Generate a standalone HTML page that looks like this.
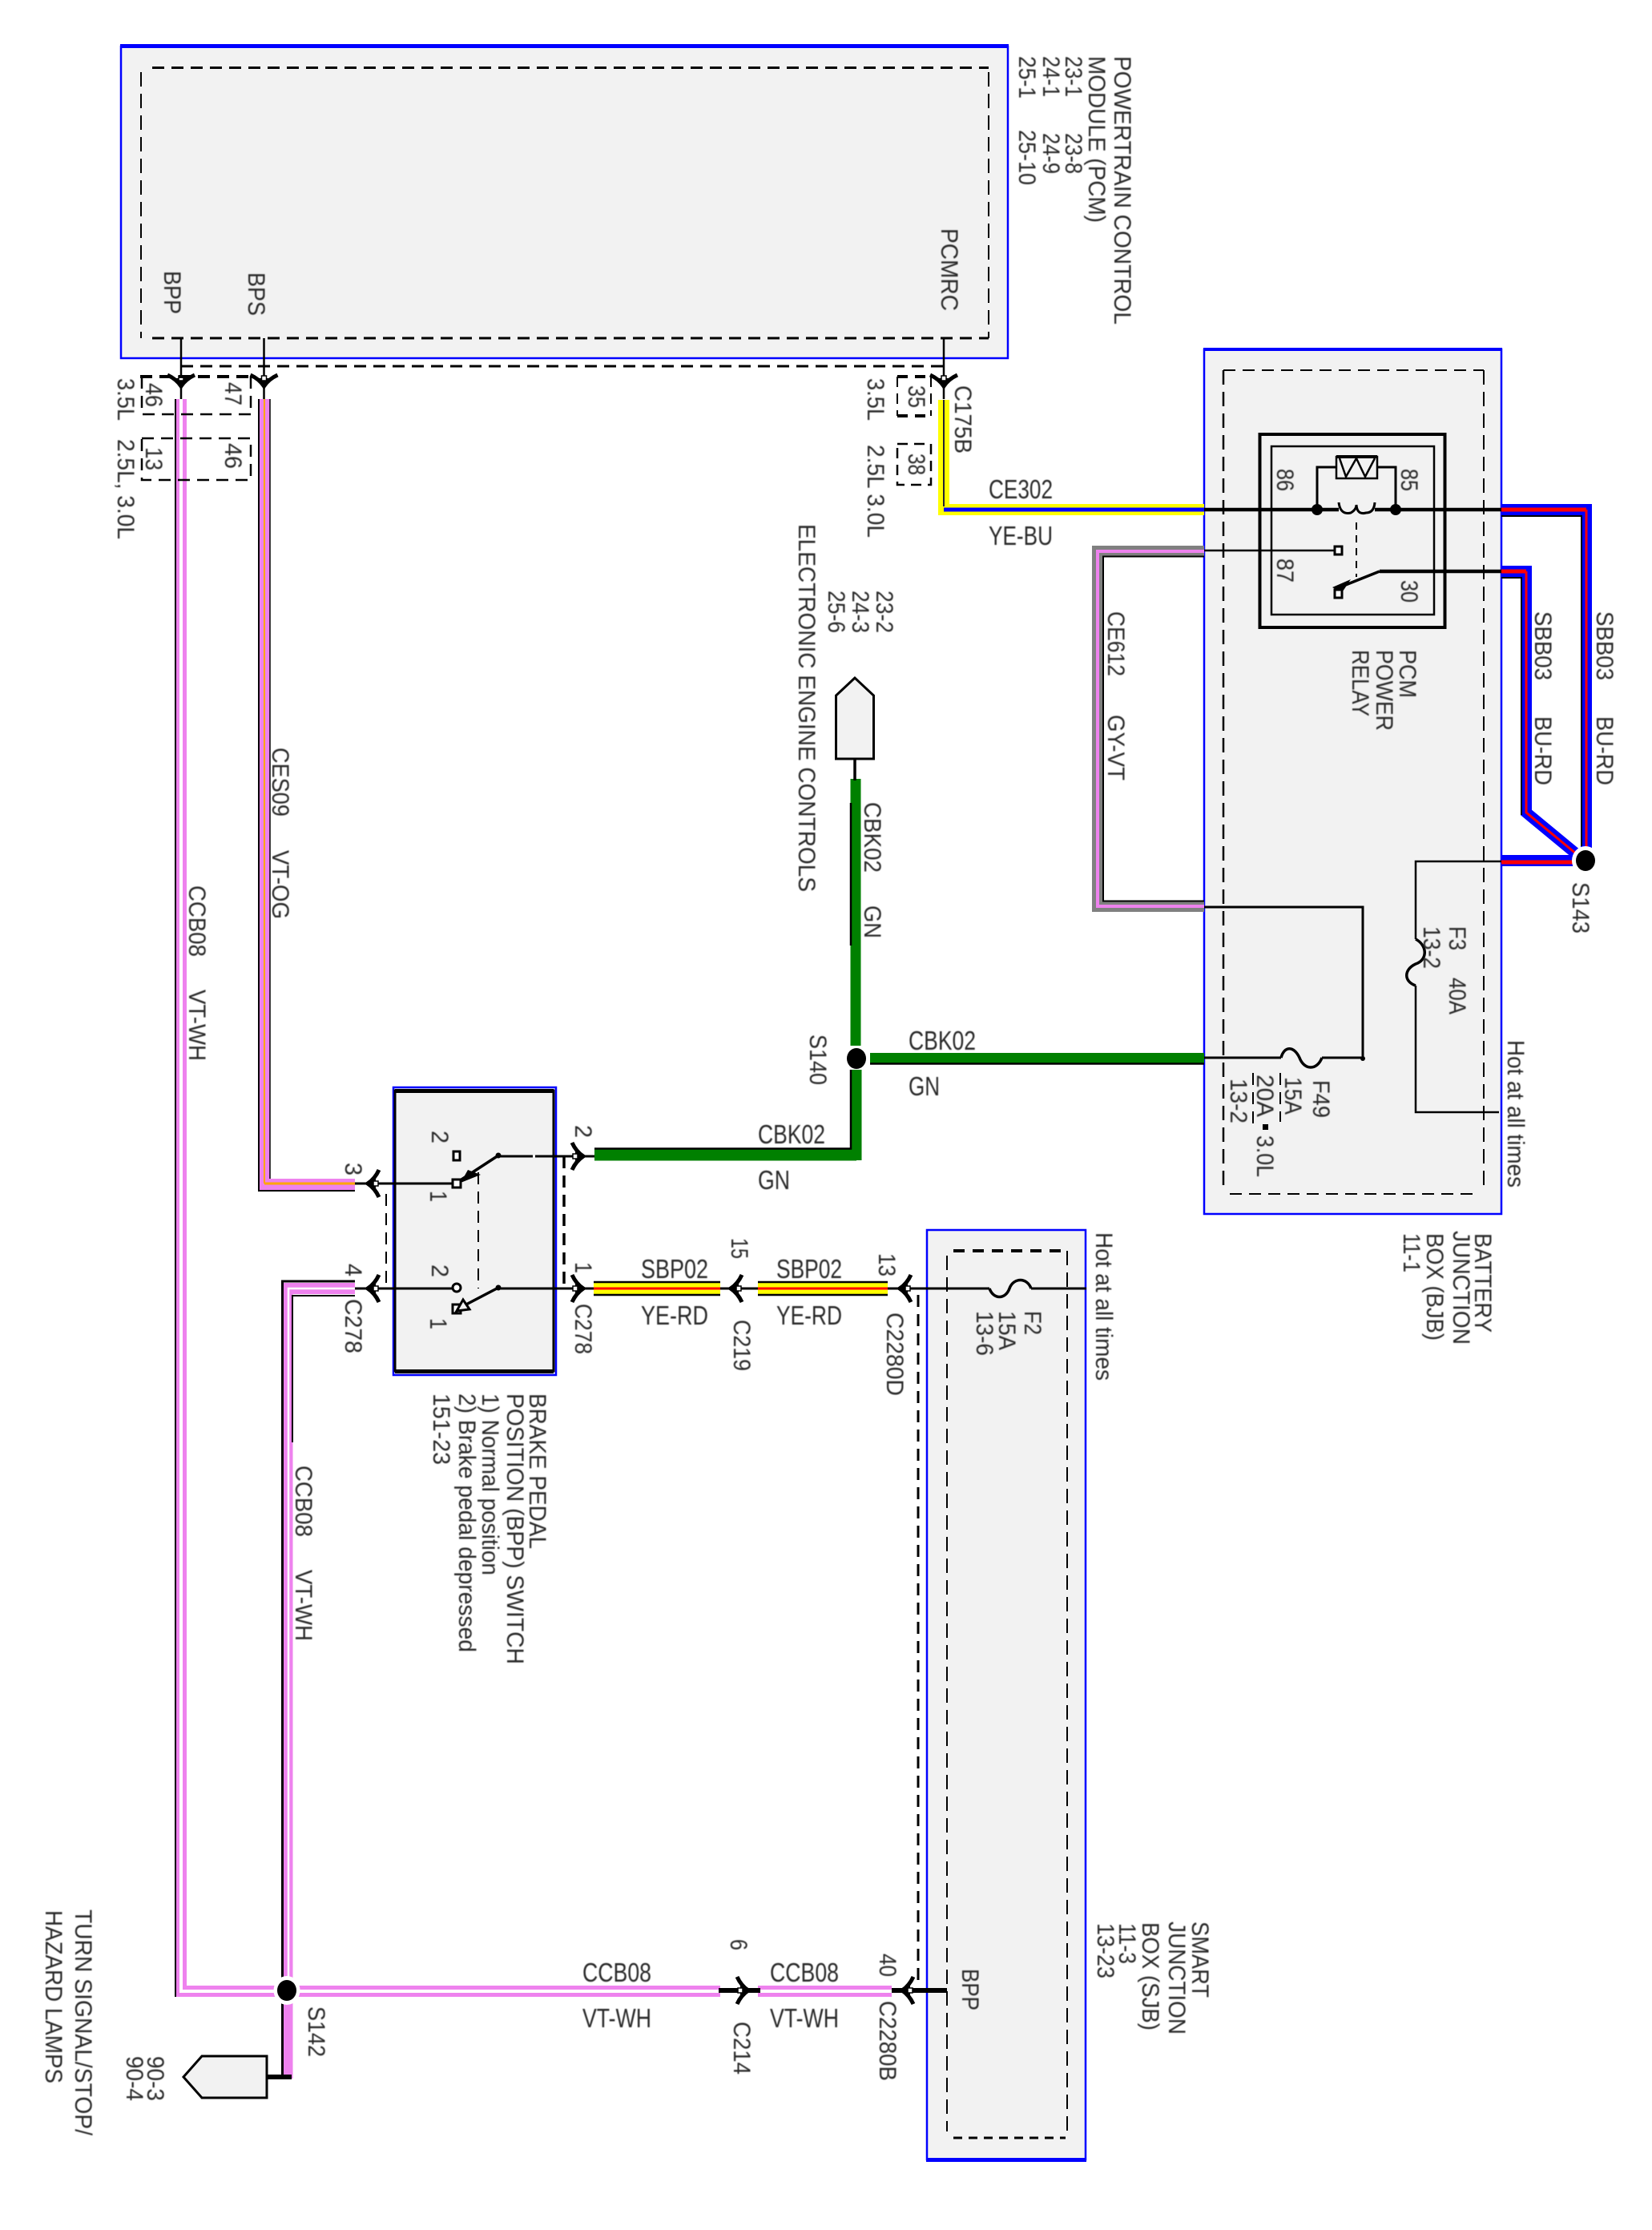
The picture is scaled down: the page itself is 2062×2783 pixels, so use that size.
<!DOCTYPE html>
<html><head><meta charset="utf-8"><title>Brake pedal position wiring diagram</title>
<style>
html,body{margin:0;padding:0;background:#fff}
svg{display:block}
text{font-family:"Liberation Sans",sans-serif;font-size:30px;fill:#2a2a2a;filter:blur(.5px)}
.h{font-size:33px}
.n,.t,.d,.dk{fill:none;stroke:#000}
.b{fill:#f2f2f2;stroke:#00f;stroke-width:2.5}
.w14{fill:none;stroke-width:14;stroke-linejoin:miter}
.w5{fill:none;stroke-width:5}
.term{fill:#fff;stroke:#000;stroke-width:3}
</style></head><body>
<svg width="2062" height="2783" viewBox="0 0 2062 2783" xmlns="http://www.w3.org/2000/svg">
<defs>
<g id="c"><path d="M-14 -17 Q-9 -6 0 0 Q-9 6 -14 17" fill="none" stroke="#000" stroke-width="5"/><path d="M-10 -7 L2 0 L-10 7Z" fill="#000"/><rect x="-13" y="-3" width="6" height="6" fill="#fff" stroke="#000" stroke-width="1.5"/></g>
</defs>
<rect width="2062" height="2783" fill="#fff"/>

<!-- boxes -->
<rect class="b" x="151" y="58" width="1107" height="389"/><rect x="150" y="55" width="1109" height="5" fill="#00f"/>
<path class="d" d="M190 84.500H1234M190 422H1234" stroke-width="3" stroke-dasharray="15 9"/>
<path class="d" d="M176 90V422M1234 90V422" stroke-width="2" stroke-dasharray="18 9"/>
<rect class="b" x="1503" y="436" width="371" height="1079"/><rect x="1502" y="434" width="373" height="4" fill="#00f"/>
<path class="d" d="M1527 462H1852M1535 1490H1845" stroke-width="2" stroke-dasharray="15 9"/>
<path class="d" d="M1527 462V1483" stroke-width="2.500" stroke-dasharray="18 9"/>
<path class="d" d="M1852 462V1483" stroke-width="2" stroke-dasharray="18 9"/>
<rect class="b" x="1157" y="1535" width="198" height="1160"/><rect x="1156" y="2693" width="200" height="5" fill="#00f"/>
<path class="d" d="M1182 1567V2660M1332 1561V2660" stroke-width="2" stroke-dasharray="18 9"/>
<path class="d" d="M1190 1561H1332" stroke-width="4" stroke-dasharray="14 10"/>
<path class="d" d="M1190 2668H1330" stroke-width="3" stroke-dasharray="11 8"/>
<rect class="b" x="491" y="1357" width="203" height="359"/>
<path d="M493 1361H691V1711H493Z" fill="none" stroke="#000" stroke-width="3"/>
<rect x="493" y="1359" width="198" height="5" fill="#000"/><rect x="493" y="1709" width="198" height="5" fill="#000"/>

<!-- CE302 -->
<polyline class="w14" stroke="#ff0" points="1178,499 1178,636 1503,636"/>
<path d="M1178 499V632" fill="none" stroke="#223" stroke-width="2"/>
<path d="M1178 636H1503" fill="none" stroke="#00f" stroke-width="5"/>
<!-- GY-VT -->
<polyline class="w14" stroke="#808080" points="1503,688 1370,688 1370,1131 1503,1131"/>
<polyline fill="none" stroke="#ee82ee" stroke-width="4" points="1503,688 1370,688 1370,1131 1503,1131"/>
<path d="M1503 694.500H1377V1124.500H1503" class="n" stroke-width="2"/>
<!-- BU-RD -->
<polyline class="w14" stroke="#00f" points="1874,636 1980,636 1980,1060"/>
<path d="M1874 636H1980" fill="none" stroke="#f00" stroke-width="5"/><path d="M1980 636V1060" fill="none" stroke="#f00" stroke-width="3"/>
<path d="M1874 644H1974V1056" class="n" stroke-width="2"/>
<polyline class="w14" stroke="#00f" points="1874,713 1905,713 1905,1014 1968,1066"/>
<path d="M1874 713H1905" fill="none" stroke="#f00" stroke-width="5"/><path d="M1905 713V1014L1968 1066" fill="none" stroke="#f00" stroke-width="3"/>
<path d="M1874 721H1899V1017" class="n" stroke-width="2"/>
<polyline class="w14" stroke="#00f" points="1874,1074 1964,1074"/>
<polyline class="w5" stroke="#f00" points="1874,1076 1964,1076"/>
<ellipse cx="1979" cy="1074" rx="17" ry="18" fill="#fff"/><ellipse cx="1979" cy="1074" rx="12" ry="13" fill="#000"/>
<!-- green -->
<path d="M1068 972V1305M1069 1335V1448" stroke="#008000" stroke-width="13" fill="none"/>
<path d="M742 1441H1069" stroke="#008000" stroke-width="15" fill="none"/>
<path d="M742 1433.500H1062V1335" class="n" stroke-width="2.500"/>
<path d="M1062 1002V1180" class="n" stroke-width="2.500"/>
<path d="M1086 1321H1503" stroke="#008000" stroke-width="14" fill="none"/>
<path d="M1086 1327.500H1503" class="n" stroke-width="2.500"/>
<ellipse cx="1069" cy="1321" rx="12" ry="13" fill="#000"/>
<!-- VT-OG -->
<polyline class="w14" stroke="#ee82ee" points="330,498 330,1478 443,1478"/>
<path d="M330 498V1477" fill="none" stroke="#ffa500" stroke-width="2"/><path d="M330 1477H443" fill="none" stroke="#ffa500" stroke-width="3"/>
<path d="M323 498V1486H443" class="n" stroke-width="2"/><path d="M337 498V1471" class="n" stroke-width="1.500"/>
<!-- VT-WH -->
<polyline class="w14" stroke="#ee82ee" points="226,498 226,2485 899,2485"/>
<polyline class="w14" stroke="#ee82ee" points="946,2485 1113,2485"/>
<polyline class="w14" stroke="#ee82ee" points="443,1608 358.500,1608 358.500,2594"/>
<polyline fill="none" stroke="#fff" stroke-width="4" points="226,498 226,2485 899,2485"/>
<path d="M946 2485H1113" stroke="#fff" stroke-width="4"/>
<polyline fill="none" stroke="#fff" stroke-width="2.500" points="443,1608 360,1608 360,2467"/>
<path d="M219 498V2492" class="n" stroke-width="2"/>
<path d="M443 1599H352.500V2592" class="n" stroke-width="3"/>
<path d="M443 1617H365V1800" class="n" stroke-width="2"/>
<ellipse cx="358" cy="2484" rx="16.500" ry="18" fill="#fff"/><ellipse cx="358" cy="2484" rx="12" ry="13" fill="#000"/>
<!-- YE-RD -->
<g>
<rect x="741" y="1599" width="158" height="18" fill="#ff0"/><rect x="946" y="1599" width="162" height="18" fill="#ff0"/>
<path d="M741 1600H899M741 1616H899M946 1600H1108M946 1616H1108" stroke="#000" stroke-width="2.500"/>
<path d="M741 1608H899M946 1608H1108" stroke="#f00" stroke-width="3"/>
</g>

<!-- PCM leads -->
<path d="M226 422V498M329.500 422V498M1178 422V498" class="n" stroke-width="2.500"/>
<path d="M226 457H1178" class="d" stroke-width="3" stroke-dasharray="15 9"/>
<use href="#c" transform="translate(226,482) rotate(90)"/><use href="#c" transform="translate(329.500,482) rotate(90)"/><use href="#c" transform="translate(1178,482) rotate(90)"/>
<path d="M175 470H313" class="d" stroke-width="4" stroke-dasharray="15 9"/><path d="M313 470V512M313 517H177V472" class="d" stroke-width="2.500" stroke-dasharray="15 9"/>
<path d="M177 547H313V599H177Z" class="d" stroke-width="2.500" stroke-dasharray="15 9"/>
<path d="M1120 470H1162M1120 519H1162" class="d" stroke-width="4" stroke-dasharray="13 9"/>
<path d="M1162 470V519M1120 470V519" class="d" stroke-width="2" stroke-dasharray="13 8"/>
<path d="M1120 554H1162V605H1120Z" class="d" stroke-width="2.500" stroke-dasharray="13 8"/>

<!-- relay -->
<rect x="1572.500" y="542" width="231" height="241" fill="none" stroke="#000" stroke-width="4"/>
<rect x="1587" y="557" width="203" height="210" fill="none" stroke="#000" stroke-width="2.500"/>
<rect x="1668" y="570" width="51" height="27" fill="none" stroke="#000" stroke-width="2.500"/>
<path d="M1668 570H1719" stroke="#000" stroke-width="4"/>
<path d="M1644 636V583H1668M1719 583H1742V636" class="n" stroke-width="3"/>
<path d="M1672 572L1680 595L1693 572L1704 595L1716 572" class="n" stroke-width="2.500"/>
<path d="M1503 636H1671M1716 636H1874" class="t" stroke-width="4.500"/>
<path d="M1671 627Q1673 643 1686 640Q1693 636 1693 630Q1694 643 1705 640Q1715 640 1716 627" class="n" stroke-width="3"/>
<circle cx="1644" cy="636" r="7"/><circle cx="1742" cy="636" r="7"/>
<path d="M1693 652V720" class="n" stroke-width="2" stroke-dasharray="9 7"/>
<path d="M1503 687H1666" class="n" stroke-width="2.500"/>
<rect class="term" x="1666" y="682" width="9" height="10"/>
<path d="M1722 713H1874" class="t" stroke-width="4.500"/>
<path d="M1722 713L1672 733" class="t" stroke-width="3.500"/>
<path d="M1686 723L1663 733L1670 737L1676 738Z" fill="#000"/>
<rect class="term" x="1666" y="736" width="9" height="10"/>

<!-- BJB internals -->
<path d="M1503 1132H1701V1320M1503 1320H1599M1650 1320H1701" class="n" stroke-width="3"/>
<circle cx="1701" cy="1321" r="3"/>
<path d="M1599 1320C1603 1305 1615 1305 1622 1320C1628 1336 1644 1336 1650 1320" class="n" stroke-width="3.500"/>
<path d="M1874 1075H1767V1172M1767 1230V1388H1871" class="n" stroke-width="2.500"/>
<path d="M1767 1172C1782 1180 1782 1198 1767 1203C1752 1210 1752 1225 1767 1230" class="n" stroke-width="3.500"/>
<path d="M1564 1339V1406M1598 1339V1400" class="d" stroke-width="2" stroke-dasharray="15 9"/>
<rect x="1576" y="1403" width="7" height="7" fill="#000"/>

<!-- switch -->
<path d="M443 1477H570M443 1608H570" class="n" stroke-width="3"/>
<path d="M621 1443H665M668 1443H742M621 1608H741" class="n" stroke-width="3"/>
<path d="M622 1442L576 1472" class="t" stroke-width="3.500"/><path d="M622 1607L578 1630" class="t" stroke-width="3.500"/>
<path d="M584 1460L600 1466L575 1476Z" fill="#000"/>
<rect class="term" x="565" y="1472" width="10" height="10"/><rect class="term" x="566" y="1437" width="8" height="11"/>
<circle class="term" cx="570" cy="1607" r="5"/><rect class="term" x="565" y="1628" width="10" height="11"/>
<path d="M578 1622L586 1634L570 1636Z" fill="#f2f2f2" stroke="#000" stroke-width="3"/>
<circle cx="622" cy="1442" r="3.500"/><circle cx="622" cy="1607" r="3.500"/>
<path d="M597 1463V1608" class="d" stroke-width="2" stroke-dasharray="15 9"/>
<path d="M704 1443V1608" class="d" stroke-width="3.500" stroke-dasharray="15 9"/>
<path d="M482 1490V1608" class="d" stroke-width="2" stroke-dasharray="15 9"/>
<use href="#c" transform="translate(728,1443)"/><use href="#c" transform="translate(728,1608)"/>
<use href="#c" transform="translate(459,1477) rotate(180)"/><use href="#c" transform="translate(459,1608) rotate(180)"/>
<path d="M899 1608H946" class="n" stroke-width="3"/>
<use href="#c" transform="translate(912,1608) rotate(180)"/>
<path d="M1108 1608H1235M1287 1608H1356" class="n" stroke-width="3"/>
<use href="#c" transform="translate(1123,1608) rotate(180)"/>
<path d="M1235 1608C1240 1622 1255 1622 1260 1608C1265 1594 1282 1594 1287 1608" class="n" stroke-width="3.500"/>
<path d="M1146 1616V2480" class="d" stroke-width="3" stroke-dasharray="15 9"/>

<!-- lower -->
<path d="M897 2484H949M1113 2484H1182" stroke="#000" stroke-width="6"/>
<use href="#c" transform="translate(934,2484)"/><use href="#c" transform="translate(1126,2484) rotate(180)"/>
<path d="M252 2566H333V2618H252L229 2592Z" fill="#f2f2f2" stroke="#000" stroke-width="3"/>
<path d="M334 2592H364" stroke="#000" stroke-width="6"/>
<path d="M1067 846L1043.500 868V947H1090.500V868Z" fill="#f2f2f2" stroke="#000" stroke-width="3"/>
<path d="M1067 947V974" class="t" stroke-width="3.500"/>

<!-- rotated labels -->
<text transform="translate(1391,70) rotate(90)" textLength="335" lengthAdjust="spacingAndGlyphs">POWERTRAIN CONTROL</text>
<text transform="translate(1359,70) rotate(90)" textLength="208" lengthAdjust="spacingAndGlyphs">MODULE (PCM)</text>
<text transform="translate(1330,70) rotate(90)" textLength="51" lengthAdjust="spacingAndGlyphs">23-1</text>
<text transform="translate(1330,166) rotate(90)" textLength="51" lengthAdjust="spacingAndGlyphs">23-8</text>
<text transform="translate(1302,70) rotate(90)" textLength="51" lengthAdjust="spacingAndGlyphs">24-1</text>
<text transform="translate(1302,166) rotate(90)" textLength="51" lengthAdjust="spacingAndGlyphs">24-9</text>
<text transform="translate(1272,70) rotate(90)" textLength="53" lengthAdjust="spacingAndGlyphs">25-1</text>
<text transform="translate(1272,162) rotate(90)" textLength="69" lengthAdjust="spacingAndGlyphs">25-10</text>
<text transform="translate(1175,285) rotate(90)" textLength="103" lengthAdjust="spacingAndGlyphs">PCMRC</text>
<text transform="translate(310,340) rotate(90)" textLength="54" lengthAdjust="spacingAndGlyphs">BPS</text>
<text transform="translate(205,338) rotate(90)" textLength="54" lengthAdjust="spacingAndGlyphs">BPP</text>
<text transform="translate(182,478) rotate(90)" textLength="30" lengthAdjust="spacingAndGlyphs">46</text>
<text transform="translate(281,477) rotate(90)" textLength="29" lengthAdjust="spacingAndGlyphs">47</text>
<text transform="translate(182,558) rotate(90)" textLength="29" lengthAdjust="spacingAndGlyphs">13</text>
<text transform="translate(281,553) rotate(90)" textLength="32" lengthAdjust="spacingAndGlyphs">46</text>
<text transform="translate(147,472) rotate(90)" textLength="53" lengthAdjust="spacingAndGlyphs">3.5L</text>
<text transform="translate(147,548) rotate(90)" textLength="125" lengthAdjust="spacingAndGlyphs">2.5L, 3.0L</text>
<text transform="translate(1134,481) rotate(90)" textLength="28" lengthAdjust="spacingAndGlyphs">35</text>
<text transform="translate(1134,566) rotate(90)" textLength="27" lengthAdjust="spacingAndGlyphs">38</text>
<text transform="translate(1083,472) rotate(90)" textLength="53" lengthAdjust="spacingAndGlyphs">3.5L</text>
<text transform="translate(1083,555) rotate(90)" textLength="116" lengthAdjust="spacingAndGlyphs">2.5L 3.0L</text>
<text transform="translate(1192,481) rotate(90)" textLength="85" lengthAdjust="spacingAndGlyphs">C175B</text>
<text transform="translate(997,654) rotate(90)" textLength="459" lengthAdjust="spacingAndGlyphs">ELECTRONIC ENGINE CONTROLS</text>
<text transform="translate(1094,737) rotate(90)" textLength="53" lengthAdjust="spacingAndGlyphs">23-2</text>
<text transform="translate(1064,737) rotate(90)" textLength="53" lengthAdjust="spacingAndGlyphs">24-3</text>
<text transform="translate(1034,737) rotate(90)" textLength="53" lengthAdjust="spacingAndGlyphs">25-6</text>
<text transform="translate(1079,1001) rotate(90)" textLength="88" lengthAdjust="spacingAndGlyphs">CBK02</text>
<text transform="translate(1079,1130) rotate(90)" textLength="41" lengthAdjust="spacingAndGlyphs">GN</text>
<text transform="translate(1011,1291) rotate(90)" textLength="63" lengthAdjust="spacingAndGlyphs">S140</text>
<text transform="translate(1383,763) rotate(90)" textLength="81" lengthAdjust="spacingAndGlyphs">CE612</text>
<text transform="translate(1383,892) rotate(90)" textLength="82" lengthAdjust="spacingAndGlyphs">GY-VT</text>
<text transform="translate(1916,763) rotate(90)" textLength="86" lengthAdjust="spacingAndGlyphs">SBB03</text>
<text transform="translate(1916,894) rotate(90)" textLength="86" lengthAdjust="spacingAndGlyphs">BU-RD</text>
<text transform="translate(1993,763) rotate(90)" textLength="86" lengthAdjust="spacingAndGlyphs">SBB03</text>
<text transform="translate(1993,894) rotate(90)" textLength="86" lengthAdjust="spacingAndGlyphs">BU-RD</text>
<text transform="translate(1963,1101) rotate(90)" textLength="64" lengthAdjust="spacingAndGlyphs">S143</text>
<text transform="translate(1747,811) rotate(90)" textLength="60" lengthAdjust="spacingAndGlyphs">PCM</text>
<text transform="translate(1718,811) rotate(90)" textLength="101" lengthAdjust="spacingAndGlyphs">POWER</text>
<text transform="translate(1688,811) rotate(90)" textLength="83" lengthAdjust="spacingAndGlyphs">RELAY</text>
<text transform="translate(1594,585) rotate(90)" textLength="28" lengthAdjust="spacingAndGlyphs">86</text>
<text transform="translate(1749,585) rotate(90)" textLength="28" lengthAdjust="spacingAndGlyphs">85</text>
<text transform="translate(1594,697) rotate(90)" textLength="30" lengthAdjust="spacingAndGlyphs">87</text>
<text transform="translate(1749,724) rotate(90)" textLength="28" lengthAdjust="spacingAndGlyphs">30</text>
<text transform="translate(1809,1156) rotate(90)" textLength="30" lengthAdjust="spacingAndGlyphs">F3</text>
<text transform="translate(1809,1220) rotate(90)" textLength="46" lengthAdjust="spacingAndGlyphs">40A</text>
<text transform="translate(1777,1156) rotate(90)" textLength="53" lengthAdjust="spacingAndGlyphs">13-2</text>
<text transform="translate(1639,1348) rotate(90)" textLength="47" lengthAdjust="spacingAndGlyphs">F49</text>
<text transform="translate(1604,1344) rotate(90)" textLength="47" lengthAdjust="spacingAndGlyphs">15A</text>
<text transform="translate(1569,1341) rotate(90)" textLength="53" lengthAdjust="spacingAndGlyphs">20A</text>
<text transform="translate(1569,1417) rotate(90)" textLength="52" lengthAdjust="spacingAndGlyphs">3.0L</text>
<text transform="translate(1536,1346) rotate(90)" textLength="56" lengthAdjust="spacingAndGlyphs">13-2</text>
<text transform="translate(1882,1298) rotate(90)" textLength="184" lengthAdjust="spacingAndGlyphs">Hot at all times</text>
<text transform="translate(1841,1539) rotate(90)" textLength="124" lengthAdjust="spacingAndGlyphs">BATTERY</text>
<text transform="translate(1814,1536) rotate(90)" textLength="142" lengthAdjust="spacingAndGlyphs">JUNCTION</text>
<text transform="translate(1781,1539) rotate(90)" textLength="134" lengthAdjust="spacingAndGlyphs">BOX (BJB)</text>
<text transform="translate(1752,1539) rotate(90)" textLength="49" lengthAdjust="spacingAndGlyphs">11-1</text>
<text transform="translate(1368,1538) rotate(90)" textLength="185" lengthAdjust="spacingAndGlyphs">Hot at all times</text>
<text transform="translate(1279,1636) rotate(90)" textLength="30" lengthAdjust="spacingAndGlyphs">F2</text>
<text transform="translate(1247,1636) rotate(90)" textLength="49" lengthAdjust="spacingAndGlyphs">15A</text>
<text transform="translate(1219,1636) rotate(90)" textLength="56" lengthAdjust="spacingAndGlyphs">13-6</text>
<text transform="translate(340,933) rotate(90)" textLength="86" lengthAdjust="spacingAndGlyphs">CES09</text>
<text transform="translate(340,1061) rotate(90)" textLength="86" lengthAdjust="spacingAndGlyphs">VT-OG</text>
<text transform="translate(236,1105) rotate(90)" textLength="89" lengthAdjust="spacingAndGlyphs">CCB08</text>
<text transform="translate(236,1235) rotate(90)" textLength="89" lengthAdjust="spacingAndGlyphs">VT-WH</text>
<text transform="translate(369,1829) rotate(90)" textLength="89" lengthAdjust="spacingAndGlyphs">CCB08</text>
<text transform="translate(369,1959) rotate(90)" textLength="89" lengthAdjust="spacingAndGlyphs">VT-WH</text>
<text transform="translate(431,1451) rotate(90)" textLength="16" lengthAdjust="spacingAndGlyphs">3</text>
<text transform="translate(431,1577) rotate(90)" textLength="16" lengthAdjust="spacingAndGlyphs">4</text>
<text transform="translate(431,1621) rotate(90)" textLength="68" lengthAdjust="spacingAndGlyphs">C278</text>
<text transform="translate(718,1404) rotate(90)" textLength="16" lengthAdjust="spacingAndGlyphs">2</text>
<text transform="translate(718,1575) rotate(90)" textLength="14" lengthAdjust="spacingAndGlyphs">1</text>
<text transform="translate(718,1627) rotate(90)" textLength="63" lengthAdjust="spacingAndGlyphs">C278</text>
<text transform="translate(539,1411) rotate(90)" textLength="16" lengthAdjust="spacingAndGlyphs">2</text>
<text transform="translate(537,1486) rotate(90)" textLength="14" lengthAdjust="spacingAndGlyphs">1</text>
<text transform="translate(539,1578) rotate(90)" textLength="16" lengthAdjust="spacingAndGlyphs">2</text>
<text transform="translate(537,1645) rotate(90)" textLength="14" lengthAdjust="spacingAndGlyphs">1</text>
<text transform="translate(913,1545) rotate(90)" textLength="26" lengthAdjust="spacingAndGlyphs">15</text>
<text transform="translate(1097,1564) rotate(90)" textLength="29" lengthAdjust="spacingAndGlyphs">13</text>
<text transform="translate(916,1647) rotate(90)" textLength="64" lengthAdjust="spacingAndGlyphs">C219</text>
<text transform="translate(1107,1638) rotate(90)" textLength="104" lengthAdjust="spacingAndGlyphs">C2280D</text>
<text transform="translate(661,1739) rotate(90)" textLength="194" lengthAdjust="spacingAndGlyphs">BRAKE PEDAL</text>
<text transform="translate(633,1739) rotate(90)" textLength="338" lengthAdjust="spacingAndGlyphs">POSITION (BPP) SWITCH</text>
<text transform="translate(602,1739) rotate(90)" textLength="227" lengthAdjust="spacingAndGlyphs">1) Normal position</text>
<text transform="translate(573,1739) rotate(90)" textLength="323" lengthAdjust="spacingAndGlyphs">2) Brake pedal depressed</text>
<text transform="translate(541,1739) rotate(90)" textLength="89" lengthAdjust="spacingAndGlyphs">151-23</text>
<text transform="translate(385,2504) rotate(90)" textLength="63" lengthAdjust="spacingAndGlyphs">S142</text>
<text transform="translate(184,2566) rotate(90)" textLength="56" lengthAdjust="spacingAndGlyphs">90-3</text>
<text transform="translate(158,2566) rotate(90)" textLength="56" lengthAdjust="spacingAndGlyphs">90-4</text>
<text transform="translate(94,2383) rotate(90)" textLength="282" lengthAdjust="spacingAndGlyphs">TURN SIGNAL/STOP/</text>
<text transform="translate(57,2384) rotate(90)" textLength="216" lengthAdjust="spacingAndGlyphs">HAZARD LAMPS</text>
<text transform="translate(912,2420) rotate(90)" textLength="14" lengthAdjust="spacingAndGlyphs">6</text>
<text transform="translate(916,2523) rotate(90)" textLength="66" lengthAdjust="spacingAndGlyphs">C214</text>
<text transform="translate(1098,2438) rotate(90)" textLength="29" lengthAdjust="spacingAndGlyphs">40</text>
<text transform="translate(1098,2497) rotate(90)" textLength="100" lengthAdjust="spacingAndGlyphs">C2280B</text>
<text transform="translate(1201,2457) rotate(90)" textLength="52" lengthAdjust="spacingAndGlyphs">BPP</text>
<text transform="translate(1488,2398) rotate(90)" textLength="95" lengthAdjust="spacingAndGlyphs">SMART</text>
<text transform="translate(1459,2398) rotate(90)" textLength="141" lengthAdjust="spacingAndGlyphs">JUNCTION</text>
<text transform="translate(1426,2399) rotate(90)" textLength="135" lengthAdjust="spacingAndGlyphs">BOX (SJB)</text>
<text transform="translate(1397,2400) rotate(90)" textLength="51" lengthAdjust="spacingAndGlyphs">11-3</text>
<text transform="translate(1370,2400) rotate(90)" textLength="69" lengthAdjust="spacingAndGlyphs">13-23</text>

<!-- horizontal wire labels -->
<text class="h" x="1234" y="622" textLength="80" lengthAdjust="spacingAndGlyphs">CE302</text>
<text class="h" x="1234" y="680" textLength="80" lengthAdjust="spacingAndGlyphs">YE-BU</text>
<text class="h" x="1134" y="1310" textLength="84" lengthAdjust="spacingAndGlyphs">CBK02</text>
<text class="h" x="1134" y="1367" textLength="39" lengthAdjust="spacingAndGlyphs">GN</text>
<text class="h" x="946" y="1427" textLength="84" lengthAdjust="spacingAndGlyphs">CBK02</text>
<text class="h" x="946" y="1484" textLength="40" lengthAdjust="spacingAndGlyphs">GN</text>
<text class="h" x="800" y="1595" textLength="84" lengthAdjust="spacingAndGlyphs">SBP02</text>
<text class="h" x="800" y="1653" textLength="84" lengthAdjust="spacingAndGlyphs">YE-RD</text>
<text class="h" x="969" y="1595" textLength="82" lengthAdjust="spacingAndGlyphs">SBP02</text>
<text class="h" x="969" y="1653" textLength="82" lengthAdjust="spacingAndGlyphs">YE-RD</text>
<text class="h" x="727" y="2473" textLength="86" lengthAdjust="spacingAndGlyphs">CCB08</text>
<text class="h" x="727" y="2530" textLength="86" lengthAdjust="spacingAndGlyphs">VT-WH</text>
<text class="h" x="961" y="2473" textLength="86" lengthAdjust="spacingAndGlyphs">CCB08</text>
<text class="h" x="961" y="2530" textLength="86" lengthAdjust="spacingAndGlyphs">VT-WH</text>
</svg>
</body></html>
